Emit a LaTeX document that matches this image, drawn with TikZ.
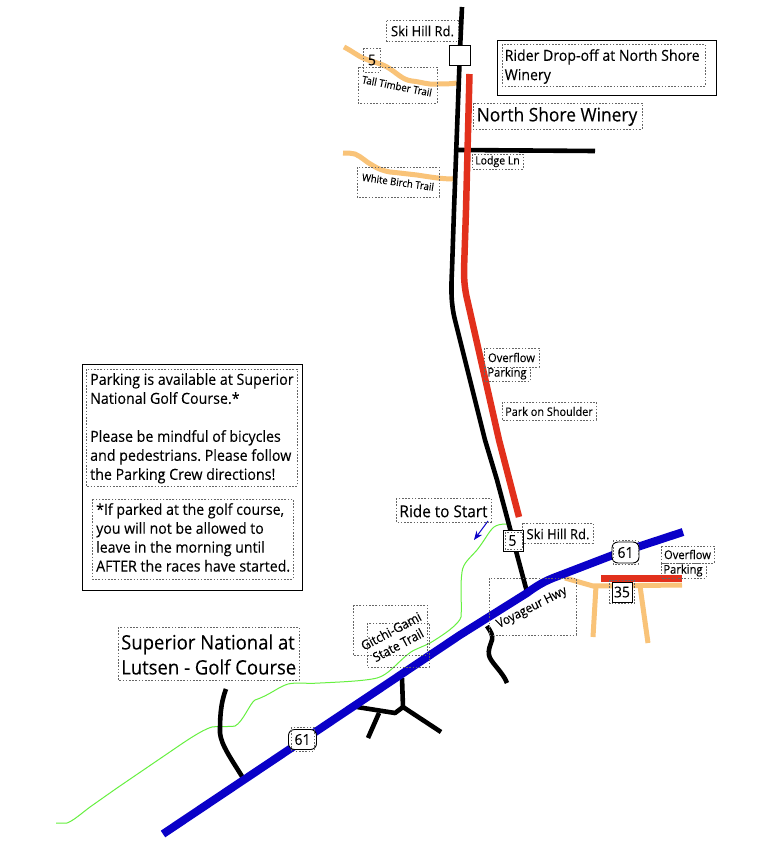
\documentclass[tikz,border=0pt]{standalone}
\usepackage{fontspec}
\setmainfont[FakeStretch=0.93,FakeBold=0.12]{Open Sans}
\usetikzlibrary{arrows.meta}
\frenchspacing
\definecolor{roadblue}{HTML}{0A00C8}
\definecolor{parkred}{HTML}{E2301C}
\definecolor{trailorange}{HTML}{F9C378}
\definecolor{trailgreen}{HTML}{66F040}
\definecolor{dotgray}{HTML}{666666}
\newcommand{\fs}[2]{\fontsize{#1}{#2}\selectfont}
\newcommand{\dbox}[2]{\draw[dotbox] #1 rectangle #2;}
\tikzset{
  road/.style={draw=black,line width=4.6pt,line join=round},
  hwy/.style={draw=roadblue,line width=8pt,line join=round},
  park/.style={draw=parkred,line width=6.5pt,line join=round},
  trail/.style={draw=trailorange,line width=5pt,line join=round},
  bike/.style={draw=trailgreen,line width=1pt,line join=round},
  dotbox/.style={draw=dotgray,line width=0.6pt,dash pattern=on 1.6pt off 1.6pt},
  solidbox/.style={draw=black,line width=0.9pt},
  lbl/.style={inner sep=0pt,text=black,align=left},
  shield/.style={draw=black,line width=0.9pt,fill=white,inner sep=0pt},
}
\begin{document}
\begin{tikzpicture}[x=1pt,y=-1pt]
\useasboundingbox (0,0) rectangle (757,849);
\fill[white] (0,0) rectangle (757,849);

% bike trail
\draw[bike] (507,524) .. controls (500,524) and (497,525) .. (494,527)
  .. controls (489,531) and (485,540) .. (477,550)
  .. controls (470,558) and (463,563) .. (462,572)
  .. controls (460,585) and (462,605) .. (461,617)
  .. controls (459,624) and (445,634) .. (430,643)
  .. controls (420,648) and (412,650) .. (407,655)
  .. controls (395,665) and (388,675) .. (377,678)
  .. controls (365,681) and (340,682) .. (320,683)
  .. controls (305,684) and (297,682) .. (288,684)
  .. controls (278,687) and (270,695) .. (255,700)
  .. controls (250,703) and (243,722) .. (235,726)
  .. controls (230,727) and (220,726) .. (212,727)
  .. controls (205,729) and (195,735) .. (183,743)
  -- (117,788) -- (90,807)
  .. controls (82,813) and (73,821) .. (67,823) -- (56,823);

% trails near the winery
\draw[trail] (344,47) .. controls (352,51) and (358,56) .. (363,58)
  .. controls (372,62) and (380,63) .. (387,67)
  .. controls (396,72) and (402,80) .. (412,81)
  .. controls (422,82) and (428,85) .. (437,84)
  .. controls (444,84) and (450,84) .. (457,83);
\draw[trail] (343,153) .. controls (348,153) and (351,153) .. (355,154)
  .. controls (362,157) and (366,162) .. (372,165)
  .. controls (378,169) and (384,171) .. (390,172)
  .. controls (400,173) and (408,174) .. (417,175)
  .. controls (430,177) and (442,179) .. (453,179);

% parking side road
\fill[parkred] (601,575) rectangle (682,582);
\draw[trail] (565,578) -- (593,586) -- (682,585);
\draw[trail] (596,586) -- (593,637);
\draw[trail] (640,586) -- (648,643);

% black roads
\draw[road,line cap=butt] (462,7) -- (460,50) -- (454,210) -- (452,270)
  .. controls (451,290) and (451,304) .. (455,320) -- (485,440) -- (497,480) -- (527,592);
\draw[road] (458,150) -- (595,151);
\draw[road] (487,626) .. controls (491,632) and (493,635) .. (492,640)
  .. controls (490,646) and (488,650) .. (489,655)
  .. controls (490,662) and (503,672) .. (507,683);
\draw[road] (226,689) .. controls (220,705) and (220,720) .. (220,733)
  .. controls (221,745) and (232,760) .. (243,778);
\draw[road] (402,678) -- (403,707) -- (441,732);
\draw[road] (403,707) -- (395,713) -- (357,707);
\draw[road] (379,713) -- (368,738);

% parking along the road
\draw[park] (469.5,74) -- (466,210) -- (464,270)
  .. controls (464,282) and (465,291) .. (468,303) -- (499,440) -- (519,517);

% highway 61
\draw[hwy] (163,834) -- (460,635) -- (527,593)
  .. controls (535,587) and (543,582) .. (553,578) -- (613,555) -- (683,532);

% ride-to-start arrow
\draw[draw=roadblue,line width=1pt,-{Stealth[length=9pt,width=7pt]}] (488,521) -- (474,540);

% shields
\node[shield,minimum width=21pt,minimum height=20.5pt] (topbox) at (460,55.5) {};
\dbox{(363.3,48)}{(380,72)}
\node[lbl,font=\fs{15}{17}] (topfive) at (372,60) {5};
\node[shield,minimum width=20pt,minimum height=21pt] (fivebox) at (513,540.5) {};
\dbox{(505,532)}{(522,549)}
\node[lbl,font=\fs{15}{17}] (five) at (512.5,540.5) {5};
\node[shield,minimum width=20pt,minimum height=20pt] (thirtyfive) at (622,592) {};
\dbox{(609.5,580)}{(634.5,603.5)}
\node[lbl,font=\fs{15}{17}] (tf) at (622,592) {35};
\node[shield,rounded corners=6pt,minimum width=27pt,minimum height=21pt] (hwyA) at (625.5,552.5) {};
\dbox{(613,540.5)}{(638,564)}
\node[lbl,font=\fs{15}{17}] (sixtyoneA) at (625.5,552.5) {61};
\node[shield,rounded corners=6pt,minimum width=28pt,minimum height=20pt] (hwyB) at (302.5,739.5) {};
\dbox{(291,727)}{(314,751)}
\node[lbl,font=\fs{15}{17}] (sixtyoneB) at (302.5,739.5) {61};

% labels
\dbox{(386.7,20.7)}{(458,41.3)}
\node[lbl,font=\fs{14}{15}] (skitop) at (422.5,31) {Ski Hill Rd.};
\dbox{(358,67)}{(437,103)}
\node[lbl,font=\fs{10.4}{12},rotate=-11] (tall) at (397,86) {Tall Timber Trail};
\dbox{(357,167)}{(439,197)}
\node[lbl,font=\fs{10.3}{12},rotate=-8] (birch) at (398,182) {White Birch Trail};
\dbox{(472,154)}{(523,169)}
\node[lbl,font=\fs{11.3}{12}] (lodge) at (497.5,161.5) {Lodge Ln};

\draw[solidbox] (497,40) rectangle (716,95);
\dbox{(502,44)}{(705,86)}
\node[lbl,font=\fs{15.2}{19.3},anchor=west] (rider) at (504.5,66.5) {Rider Drop-off at North Shore\\Winery};
\dbox{(473,103)}{(642,129)}
\node[lbl,font=\fs{18.7}{22}] (winery) at (557,116.5) {North Shore Winery};

\dbox{(484,348)}{(539,367)}
\node[lbl,font=\fs{12}{13}] (ofA) at (511.5,357.5) {Overflow};
\dbox{(484,367)}{(530,381)}
\node[lbl,font=\fs{12}{13}] (pkA) at (507,373.5) {Parking};
\dbox{(502,402)}{(596,420)}
\node[lbl,font=\fs{11.7}{13}] (shoulder) at (549,411.5) {Park on Shoulder};

\draw[solidbox] (82,364) rectangle (302,590);
\dbox{(86,369)}{(297,486)}
\node[lbl,font=\fs{15.3}{19},anchor=north west] (parkinfo) at (90,373) {Parking is available at Superior\\National Golf Course.*\\[19pt]Please be mindful of bicycles\\and pedestrians. Please follow\\the Parking Crew directions!};
\dbox{(92,499)}{(293,579)}
\node[lbl,font=\fs{15.2}{18.9},anchor=north west] (parknote) at (96,503) {*If parked at the golf course,\\you will not be allowed to\\leave in the morning until\\AFTER the races have started.};

\dbox{(396,498)}{(491,522)}
\node[lbl,font=\fs{16.5}{17}] (ride) at (443.5,511) {Ride to Start};
\dbox{(522,523)}{(593,543)}
\node[lbl,font=\fs{14}{15}] (skilow) at (558,534) {Ski Hill Rd.};
\dbox{(661,546)}{(714,563)}
\node[lbl,font=\fs{12}{13}] (ofB) at (687.5,554.5) {Overflow};
\dbox{(661,563)}{(706,578)}
\node[lbl,font=\fs{12}{13}] (pkB) at (683,570.5) {Parking};
\dbox{(489,578)}{(576,635)}
\node[lbl,font=\fs{12.5}{15},rotate=27] (voy) at (532,608) {Voyageur Hwy};

\dbox{(353,605)}{(427,655)}
\dbox{(367,623)}{(429,667)}
\node[lbl,font=\fs{13}{14},rotate=28] (gitchi) at (391,631) {Gitchi-Gami};
\node[lbl,font=\fs{13}{14},rotate=28] (state) at (398,645) {State Trail};

\dbox{(118,627)}{(299,680)}
\node[lbl,font=\fs{19.9}{25},anchor=west] (golf) at (121,654.5) {Superior National at\\Lutsen - Golf Course};
\end{tikzpicture}
\end{document}
